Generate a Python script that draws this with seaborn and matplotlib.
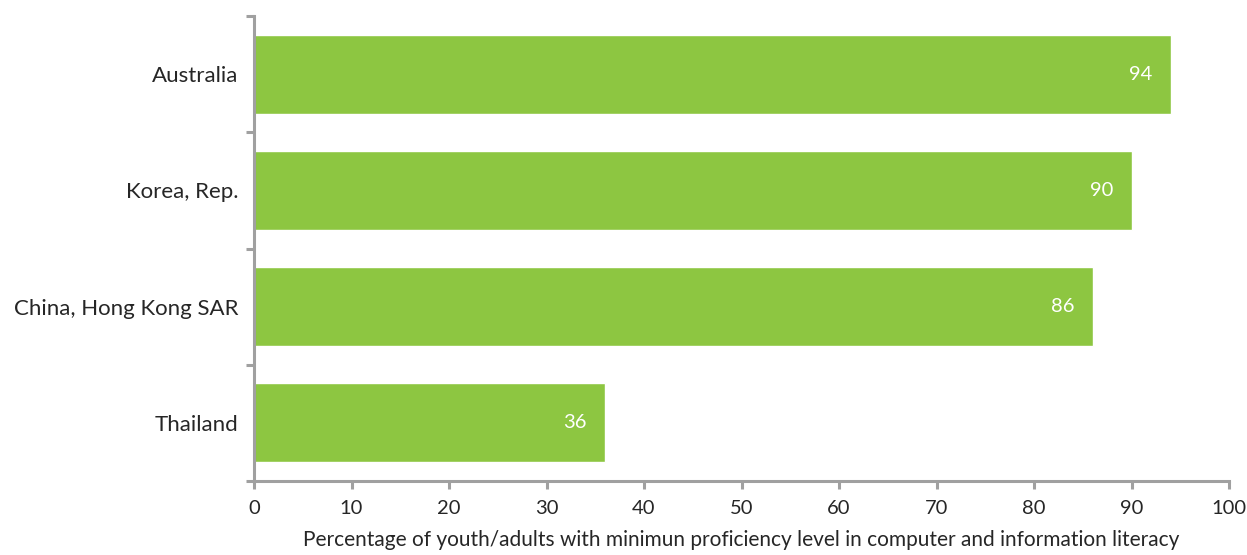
import matplotlib
matplotlib.use("Agg")
import matplotlib.pyplot as plt
import seaborn as sns
import pandas as pd

# Data
countries = ["Australia", "Korea, Rep.", "China, Hong Kong SAR", "Thailand"]
values = [94, 90, 86, 36]
x_ticks = [0, 10, 20, 30, 40, 50, 60, 70, 80, 90, 100]
x_label = "Percentage of youth/adults with minimun proficiency level in computer and information literacy"

sns.set_theme(style="white")
plt.rcParams["font.family"] = ["Lato", "DejaVu Sans"]

df = pd.DataFrame({"country": countries, "value": values})

fig = plt.figure(figsize=(12.47, 5.55), dpi=100)
ax = fig.add_axes([254 / 1247, 1 - 481 / 555, (1229 - 254) / 1247, (481 - 16) / 555])

bar_color = "#8DC641"
sns.barplot(data=df, x="value", y="country", orient="h", color=bar_color,
            saturation=1, width=0.68, ax=ax)

# Value labels, white, inside the bar ends
for i, v in enumerate(values):
    ax.annotate(str(v), xy=(v, i), xytext=(-18, 0), textcoords="offset pixels",
                ha="right", va="center", color="white", fontsize=14.5)

ax.set_xlim(0, 100)
ax.set_ylim(len(countries) - 0.5, -0.5)
ax.set_xticks(x_ticks)
ax.set_xticklabels([str(t) for t in x_ticks], fontsize=14.5)

# Category labels without tick marks; tick marks at band boundaries
ax.set_yticks(range(len(countries)))
ax.set_yticklabels(countries, fontsize=16)
ax.set_yticks([i - 0.5 for i in range(len(countries) + 1)], minor=True)
ax.tick_params(axis="y", which="major", left=True, length=0, pad=11)
ax.tick_params(axis="y", which="minor", left=True, length=6, width=2.2,
               color="#A0A0A0", direction="out")
ax.tick_params(axis="x", which="major", bottom=True, length=6, width=2.2,
               color="#A0A0A0", direction="out", pad=8)

ax.set_ylabel("")
ax.set_xlabel(x_label, fontsize=15, labelpad=9)

for side in ["top", "right"]:
    ax.spines[side].set_visible(False)
for side in ["left", "bottom"]:
    ax.spines[side].set_color("#A0A0A0")
    ax.spines[side].set_linewidth(2.2)

fig.savefig("out.png", dpi=100)
